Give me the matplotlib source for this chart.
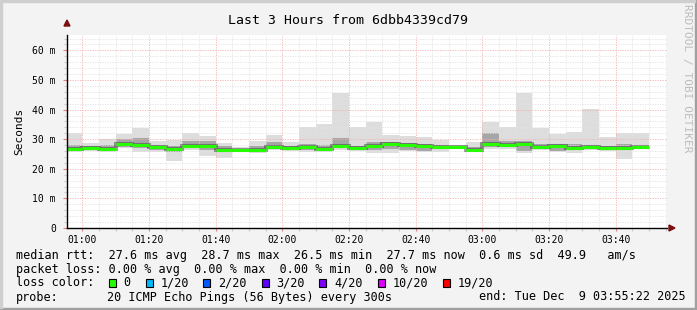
import numpy as np
import matplotlib.pyplot as plt
from matplotlib.patches import Rectangle, Polygon
from matplotlib.lines import Line2D

plt.rcParams['font.family'] = ['DejaVu Sans Mono']

# 5 minute rounds, minutes after 00:00 (edges of each round)
round_edges = np.arange(55, 235, 5)          # 00:55 ... 03:50
view_start, view_end = 55 + 22 / 60, 235 + 22 / 60   # 00:55:22 .. 03:55:22

# smoke (ms) per round: lowest ping, lower dense, median, upper dense, highest ping
ping_min = [25.8, 26.1, 25.8, 27.0, 25.8, 25.8, 22.7, 26.3, 24.4, 23.5, 25.8, 25.2,
            26.3, 26.0, 25.8, 25.8, 26.3, 26.1, 25.4, 25.2, 26.0, 25.8, 25.6, 26.8,
            25.8, 26.6, 26.6, 25.4, 26.3, 25.6, 25.2, 26.3, 26.0, 23.3, 26.6]
ping_lo = [26.2, 26.5, 26.3, 27.4, 27.0, 26.5, 25.8, 27.0, 26.5, 25.8, 26.0, 26.0,
           26.8, 26.5, 26.5, 26.3, 27.0, 26.5, 26.5, 26.8, 26.3, 26.0, 26.6, 27.0,
           26.3, 27.5, 27.3, 26.0, 26.8, 26.0, 26.3, 26.8, 26.5, 26.3, 26.9]
median = [26.8, 27.1, 26.8, 28.4, 28.2, 27.2, 26.8, 27.7, 27.7, 26.2, 26.2, 26.2,
          27.3, 26.9, 27.2, 26.7, 27.8, 26.9, 27.6, 28.3, 27.9, 27.8, 27.5, 27.3,
          26.5, 28.3, 28.0, 28.3, 27.3, 27.8, 27.1, 27.4, 26.9, 27.1, 27.3]
ping_hi = [28.2, 27.8, 28.0, 30.0, 30.5, 28.0, 27.8, 29.5, 29.3, 27.6, 26.8, 27.8,
           29.0, 27.8, 28.5, 28.2, 30.5, 27.8, 29.0, 29.0, 28.8, 28.4, 28.2, 27.5,
           27.5, 32.0, 29.5, 29.5, 28.5, 28.5, 28.3, 28.0, 27.8, 28.3, 27.8]
ping_max = [32.0, 28.8, 30.1, 31.8, 33.7, 29.5, 29.7, 32.0, 31.2, 28.8, 27.5, 29.4,
            31.5, 29.2, 34.0, 35.1, 45.7, 34.0, 35.8, 31.4, 31.1, 30.9, 29.7, 27.9,
            29.0, 35.8, 34.2, 45.7, 33.7, 31.8, 32.4, 40.2, 30.9, 32.1, 32.0]

y_ticks = [0, 10, 20, 30, 40, 50, 60]
y_labels = ['0', '10 m', '20 m', '30 m', '40 m', '50 m', '60 m']
x_ticks = [60, 80, 100, 120, 140, 160, 180, 200, 220]
x_labels = ['01:00', '01:20', '01:40', '02:00', '02:20', '02:40', '03:00', '03:20', '03:40']

loss_labels = ['0', '1/20', '2/20', '3/20', '4/20', '10/20', '19/20']
loss_colors = ['#26ff00', '#00b8ff', '#0059ff', '#5e00ff', '#7e00ff', '#dd00ff', '#ff0000']

W, H = 697, 310
bg = '#f3f3f3'


def fx(px):
    return px / W


def fy(py):
    return 1 - py / H


fig = plt.figure(figsize=(W / 100, H / 100), dpi=100, facecolor=bg)
ax = fig.add_axes([fx(67), fy(228), 600 / W, (228 - 35) / H])
ax.set_facecolor('white')

# smoke
ax.stairs(ping_max, round_edges, baseline=ping_min, fill=True, color='#dddddd', zorder=2)
ax.stairs(ping_hi, round_edges, baseline=ping_lo, fill=True, color='#a6a6a6', zorder=2)

# grid (drawn over smoke, like rrdtool)
dot = (0, (1.5, 1.5))
for v in np.arange(0, 66, 2):
    if v % 10:
        ax.axhline(v, color='#e2e2e2', lw=0.6, ls=dot, zorder=3)
for v in np.arange(60, 236, 5):
    if v % 20:
        ax.axvline(v, color='#e2e2e2', lw=0.6, ls=dot, zorder=3)
for v in y_ticks[1:]:
    ax.axhline(v, color='#f4b0b0', lw=0.6, ls=dot, zorder=3)
for v in x_ticks:
    ax.axvline(v, color='#f4b0b0', lw=0.6, ls=dot, zorder=3)

# median line: dark step outline, green only on the flat parts
ax.stairs(median, round_edges, baseline=None, color='#333333', lw=2.9, alpha=0.45, zorder=4)
ax.hlines(median, round_edges[:-1], round_edges[1:], color=loss_colors[0], lw=2.2, zorder=5)

ax.set_xlim(view_start, view_end)
ax.set_ylim(0, 65.2)
for s in ['top', 'right']:
    ax.spines[s].set_visible(False)
for s in ['left', 'bottom']:
    ax.spines[s].set_color('black')
    ax.spines[s].set_linewidth(1)
    ax.spines[s].set_zorder(6)

ax.set_yticks(y_ticks)
ax.set_yticklabels(y_labels)
ax.set_yticks(np.arange(0, 66, 2), minor=True)
ax.set_xticks(x_ticks)
ax.set_xticklabels(x_labels)
ax.set_xticks(np.arange(60, 236, 5), minor=True)
ax.tick_params(axis='y', which='major', length=3, width=0.8, color='#e08080', pad=5, labelsize=7)
ax.tick_params(axis='y', which='minor', length=2, width=0.8, color='#cccccc')
ax.tick_params(axis='x', which='major', length=2, width=0.8, color='#e08080', pad=3, labelsize=7)
ax.tick_params(axis='x', which='minor', length=2, width=0.8, color='#cccccc')

ax.set_ylabel('Seconds', fontsize=8, labelpad=6)

# axis arrows
fig.lines.append(Line2D([fx(67), fx(67)], [fy(35), fy(25)], color='black', lw=1))
fig.lines.append(Line2D([fx(667), fx(670)], [fy(228), fy(228)], color='black', lw=1))
fig.patches.append(Polygon([[fx(64), fy(26)], [fx(70), fy(26)], [fx(67), fy(20)]],
                           closed=True, color='#7a1010', transform=fig.transFigure))
fig.patches.append(Polygon([[fx(669), fy(225)], [fx(669), fy(231)], [fx(675), fy(228)]],
                           closed=True, color='#7a1010', transform=fig.transFigure))

fig.text(fx(348), fy(24), 'Last 3 Hours from 6dbb4339cd79', ha='center', va='baseline',
         fontsize=9.5)
fig.text(fx(687), fy(4), 'RRDTOOL / TOBI OETIKER', rotation=270, ha='center', va='top',
         fontsize=8, color='#bdbdbd')

# legend block
fs = 8.5
fig.text(fx(16), fy(258.5),
         'median rtt:  27.6 ms avg  28.7 ms max  26.5 ms min  27.7 ms now  0.6 ms sd  49.9   am/s',
         fontsize=fs, va='baseline')
fig.text(fx(16), fy(272.5),
         'packet loss: 0.00 % avg  0.00 % max  0.00 % min  0.00 % now',
         fontsize=fs, va='baseline')
fig.text(fx(16), fy(286.5), 'loss color:', fontsize=fs, va='baseline')
box_x = [108.7, 146, 203.3, 261.7, 319.3, 377.7, 442.7]
lab_x = [123.3, 160.7, 218, 276, 334, 392.7, 457.3]
for bx, lx, lab, col in zip(box_x, lab_x, loss_labels, loss_colors):
    fig.patches.append(Rectangle((fx(bx), fy(286.5)), 7 / W, 8 / H, facecolor=col,
                                 edgecolor='black', lw=0.8, transform=fig.transFigure))
    fig.text(fx(lx), fy(286.5), lab, fontsize=fs, va='baseline')
fig.text(fx(16), fy(300.5), 'probe:', fontsize=fs, va='baseline')
fig.text(fx(107.3), fy(300.5), '20 ICMP Echo Pings (56 Bytes) every 300s', fontsize=fs,
         va='baseline')
fig.text(fx(479.3), fy(300.5), 'end: Tue Dec  9 03:55:22 2025', fontsize=fs, va='baseline')

# 3d frame
fig.patches.append(Rectangle((0, 0), 1, 2 / H, color='#a0a0a0', transform=fig.transFigure))
fig.patches.append(Rectangle((1 - 2 / W, 0), 2 / W, 1, color='#a0a0a0', transform=fig.transFigure))
fig.patches.append(Rectangle((0, 1 - 2 / H), 1 - 2 / W, 2 / H, color='#cfcfcf', transform=fig.transFigure))
fig.patches.append(Rectangle((0, 2 / H), 2 / W, 1 - 4 / H, color='#cfcfcf', transform=fig.transFigure))

fig.savefig('out.png', dpi=100, facecolor=bg)
